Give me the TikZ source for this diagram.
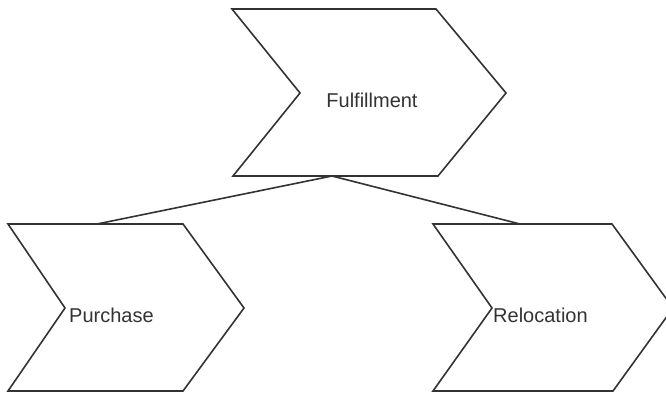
\documentclass[tikz,border=0pt]{standalone}
\usepackage{fontspec}
\setmainfont{Liberation Sans}
\begin{document}
\begin{tikzpicture}[x=1pt,y=-1pt,
  chev/.style={draw=black!80,line width=1.6pt,line join=miter},
  lbl/.style={inner sep=0pt,text=black!80,font=\fontsize{20}{24}\selectfont},
  conn/.style={draw=black!80,line width=1.6pt}]
\useasboundingbox (0,0) rectangle (666,393);
\begin{scope}
\clip (0,0) rectangle (666,393);
% Fulfillment
\draw[chev] (232,9) -- (436,9) -- (506,93) -- (438,176) -- (233,176) -- (300,93) -- cycle;
\node[lbl,anchor=base] (ful) at (372,107) {Fulfillment};
\coordinate (fbot) at (332,176);
% Purchase
\draw[chev] (8,224) -- (183,224) -- (244,308) -- (183,391) -- (8,391) -- (65,308) -- cycle;
\node[lbl,anchor=base west] (pur) at (69,322) {Purchase};
\coordinate (ptop) at (97,224);
% Relocation
\draw[chev] (433,224) -- (612,224) -- (673,308) -- (613,391) -- (433,391) -- (492,308) -- cycle;
\node[lbl,anchor=base west] (rel) at (493,322) {Relocation};
\coordinate (rtop) at (520,224);
\end{scope}
\draw[conn] (fbot) -- (ptop);
\draw[conn] (fbot) -- (rtop);
\end{tikzpicture}
\end{document}
